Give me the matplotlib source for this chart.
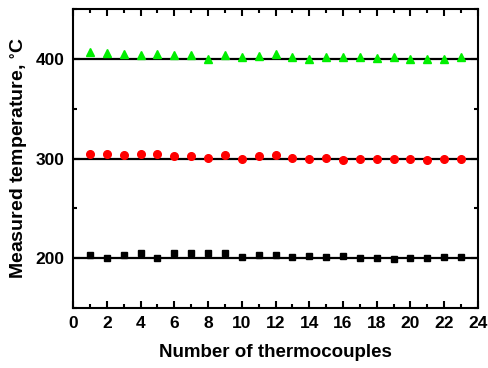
import matplotlib
matplotlib.use('Agg')
import matplotlib.pyplot as plt
from matplotlib.ticker import MultipleLocator

plt.rcParams['font.family'] = ['Liberation Sans', 'DejaVu Sans']
plt.rcParams['font.weight'] = 'bold'
plt.rcParams['mathtext.default'] = 'regular'

# readings per thermocouple
tc = list(range(1, 24))
t200 = [203.3, 200.0, 203.0, 204.7, 200.0, 204.7, 204.7, 204.7, 204.7, 201.0, 203.0, 203.0,
        200.7, 202.0, 200.7, 201.7, 199.7, 199.7, 198.7, 200.0, 199.7, 201.0, 201.0]
t300 = [305.0, 305.0, 304.0, 305.0, 305.0, 303.0, 303.0, 301.0, 304.0, 300.0, 303.0, 304.0,
        301.0, 300.0, 301.0, 299.0, 300.0, 300.0, 300.0, 300.0, 299.0, 300.0, 300.0]
t400 = [406.6, 405.6, 404.7, 403.7, 404.7, 403.7, 403.7, 400.3, 404.3, 401.7, 402.7, 404.8,
        401.7, 400.3, 401.9, 401.7, 401.9, 400.6, 402.3, 399.7, 400.3, 399.7, 401.9]
setpoints = [200, 300, 400]

fig = plt.figure(figsize=(4.88, 3.68), dpi=100)
ax = fig.add_axes([0.1496, 0.163, 0.8299, 0.8125])

for sp in setpoints:
    ax.axhline(sp, color='black', lw=1.6, zorder=1)

ax.plot(tc, t200, ls='none', marker='s', ms=5, color='black', zorder=3)
ax.plot(tc, t300, ls='none', marker='o', ms=5.5, color='red', zorder=3)
ax.plot(tc, t400, ls='none', marker='^', ms=6, color='#00ee00', zorder=3)

ax.set_xlim(0, 24)
ax.set_ylim(150, 450)
ax.xaxis.set_major_locator(MultipleLocator(2))
ax.xaxis.set_minor_locator(MultipleLocator(1))
ax.set_yticks(setpoints)
ax.yaxis.set_minor_locator(MultipleLocator(50))
ax.tick_params(which='both', direction='in', top=True, right=True, width=1.5,
               labelsize=12.5, pad=6)
ax.tick_params(which='major', length=5)
ax.tick_params(which='minor', length=3)
for s in ax.spines.values():
    s.set_linewidth(1.5)

ax.set_xlabel('Number of thermocouples', fontsize=13.5, fontweight='bold', labelpad=9)
ax.set_ylabel(r'Measured temperature, $^{\circ}$C', fontsize=14, fontweight='bold', labelpad=5)

fig.savefig('out.png', dpi=100)
